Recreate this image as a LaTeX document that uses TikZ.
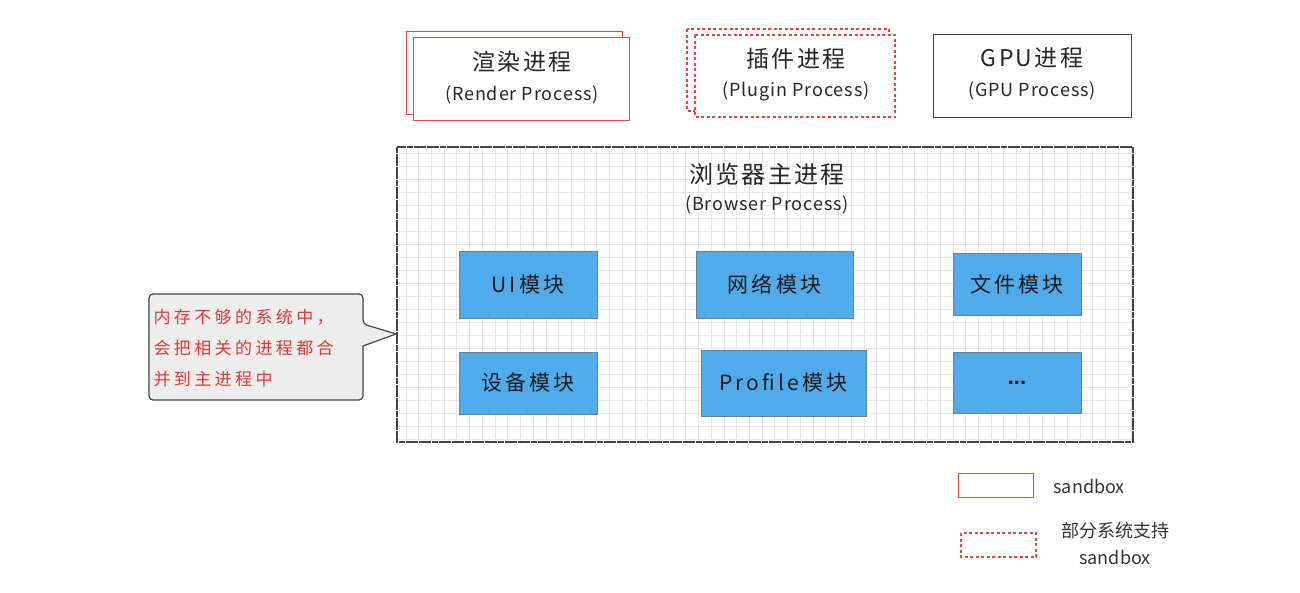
\documentclass[tikz,border=0pt]{standalone}
\usepackage{fontspec}
\setmainfont{Noto Sans CJK SC}
\newfontfamily\latdots{Liberation Sans}
\definecolor{redline}{HTML}{E5463E}
\definecolor{redtext}{HTML}{E03A33}
\definecolor{blueft}{HTML}{4FABEA}
\definecolor{blueln}{HTML}{6C7F90}
\definecolor{gridc}{HTML}{E6E6E6}
\definecolor{calloutfill}{HTML}{EDEDED}
\definecolor{darkln}{HTML}{444444}
\tikzset{
  procbox/.style={draw=redline, line width=1pt, fill=white},
  dashbox/.style={draw=redline, line width=1.4pt, dash pattern=on 3pt off 2.5pt, fill=white},
  gpubox/.style={draw=darkln, line width=1pt, fill=white},
  mainbox/.style={draw=darkln, line width=1.2pt, dash pattern=on 6pt off 0.6pt},
  module/.style={draw=blueln, line width=0.8pt, fill=blueft, inner sep=0pt, font=\fontsize{21}{24}\selectfont\addfontfeature{LetterSpace=15}, text=black!90},
  titletxt/.style={font=\fontsize{23}{26}\selectfont\addfontfeature{LetterSpace=10}, text=black!85},
  bigtitle/.style={font=\fontsize{24}{28}\selectfont\addfontfeature{LetterSpace=10}, text=black!85},
  subtxt/.style={font=\fontsize{18}{21}\selectfont\addfontfeature{LetterSpace=5}, text=black!85},
  legtxt/.style={font=\fontsize{18}{21}\selectfont, text=black!80},
  calltxt/.style={font=\fontsize{17}{20}\selectfont\addfontfeature{LetterSpace=20}, text=redtext, align=left, anchor=west},
}
\begin{document}
\begin{tikzpicture}[x=1pt,y=-1pt]
\useasboundingbox (0,0) rectangle (1300,592);
% render process
\draw[procbox] (406,31) rectangle (622,114);
\draw[procbox] (413,37) rectangle (629,120);
\node[titletxt] (rendt) at (522,62) {渲染进程};
\node[subtxt] (rends) at (522,95) {(Render Process)};
% plugin process
\draw[dashbox] (687,29) rectangle (889,111);
\draw[dashbox] (695,35) rectangle (895,117);
\node[titletxt] (plugt) at (796,59) {插件进程};
\node[subtxt] (plugs) at (796,91) {(Plugin Process)};
% gpu process
\draw[gpubox] (933,34) rectangle (1131,117);
\node[titletxt] (gput) at (1032,58) {GPU进程};
\node[subtxt] (gpus) at (1032,91) {(GPU Process)};
% main browser box with grid
\begin{scope}
  \clip (397,147) rectangle (1133,442);
  \foreach \i in {0,...,57} {
    \draw[gridc, line width=0.8pt] ({406+12.72*\i},147) -- ({406+12.72*\i},442);
  }
  \foreach \j in {0,...,22} {
    \draw[gridc, line width=0.8pt] (397,{153+13*\j}) -- (1133,{153+13*\j});
  }
\end{scope}
\draw[mainbox] (397,147) rectangle (1133,442);
\node[bigtitle] (maint) at (767,174) {浏览器主进程};
\node[subtxt] (mains) at (767,205) {(Browser Process)};
% modules
\node[module, minimum width=138pt, minimum height=67pt] (ui) at (528,284.5) {UI模块};
\node[module, minimum width=157pt, minimum height=67pt] (net) at (774.5,284.5) {网络模块};
\node[module, minimum width=128pt, minimum height=62pt] (file) at (1017,284) {文件模块};
\node[module, minimum width=138pt, minimum height=62pt] (dev) at (528,383) {设备模块};
\node[module, minimum width=165pt, minimum height=66pt] (prof) at (783.5,383) {Profile模块};
\node[module, minimum width=128pt, minimum height=61pt, font=\latdots\fontsize{22}{24}\bfseries\selectfont] (more) at (1017,382.5) {\raisebox{-4pt}{...}};
% callout
\draw[draw=darkln, line width=1.2pt, fill=calloutfill, rounded corners=4pt]
  (149,294) -- (363,294) -- (363,324) [sharp corners] -- (396,334) -- (363,346) [rounded corners=4pt] -- (363,400) -- (149,400) -- cycle;
\node[calltxt] (c1) at (150,317) {内存不够的系统中，};
\node[calltxt] (c2) at (150,348) {会把相关的进程都合};
\node[calltxt] (c3) at (150,379) {并到主进程中};
% legend
\draw[draw=redline, line width=0.9pt] (958,473) rectangle (1033,497);
\node[legtxt, anchor=west] (leg1) at (1050,486) {sandbox};
\draw[dashbox] (961,533) rectangle (1036,557);
\node[legtxt] (leg2a) at (1115,531) {部分系统支持};
\node[legtxt] (leg2b) at (1115,557) {sandbox};
\end{tikzpicture}
\end{document}
